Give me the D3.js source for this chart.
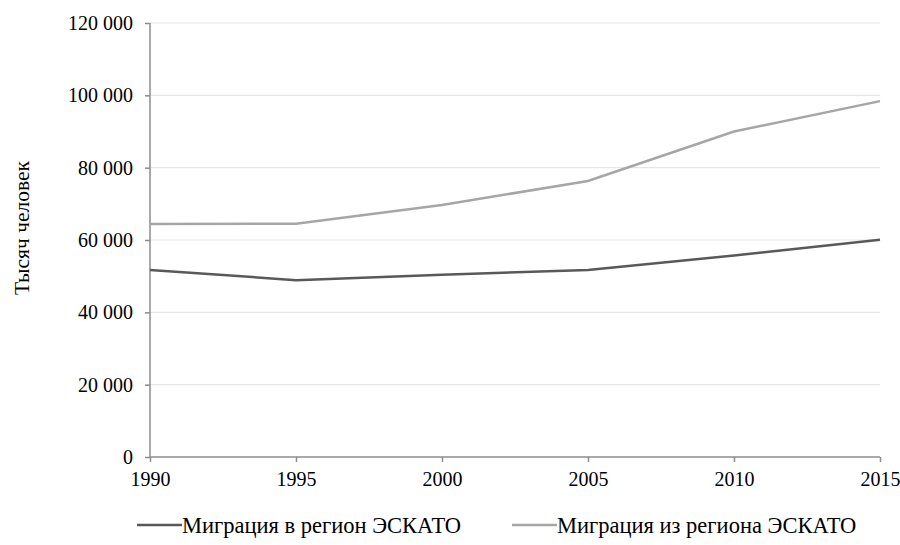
<!DOCTYPE html>
<html><head><meta charset="utf-8">
<script src="https://d3js.org/d3.v7.min.js"></script>
<style>body{margin:0;background:#fff}</style>
</head><body><svg id="c" width="900" height="545"></svg>
<script>
const years = [1990, 1995, 2000, 2005, 2010, 2015];
const seriesNames = ["Миграция в регион ЭСКАТО", "Миграция из региона ЭСКАТО"];
const inflow = [51700, 48900, 50400, 51700, 55700, 60100];
const outflow = [64400, 64500, 69700, 76300, 90000, 98400];
const yTicks = [0, 20000, 40000, 60000, 80000, 100000, 120000];
const yTitle = "Тысяч человек";
const colors = ["#595959", "#a6a6a6"];
const FONT = '"Liberation Serif"';

const svg = d3.select("#c");
const x = d3.scaleLinear().domain([1990, 2015]).range([150, 880]);
const y = d3.scaleLinear().domain([0, 120000]).range([457, 23]);
const fmt = v => d3.format(",")(v).replace(/,/g, " ");

svg.append("g").selectAll("line").data(yTicks.filter(d => d > 0)).join("line")
  .attr("x1", 150).attr("x2", 880).attr("y1", d => y(d)).attr("y2", d => y(d))
  .attr("stroke", "#e6e6e6").attr("stroke-width", 1.2);

const ya = svg.append("g").attr("transform", "translate(150,0)")
  .call(d3.axisLeft(y).tickValues(yTicks).tickFormat(fmt).tickSize(5).tickPadding(12));
const xa = svg.append("g").attr("transform", "translate(0,457)")
  .call(d3.axisBottom(x).tickValues(years).tickFormat(d3.format("d")).tickSize(5).tickPadding(10));
[ya, xa].forEach(a => {
  a.selectAll("path,line").attr("stroke", "#8c8c8c").attr("stroke-width", 1.5);
  a.selectAll("text").style("font-family", FONT).style("font-size", "20px").attr("fill", "#000");
});
ya.select(".domain").attr("d", "M0,457V23");
xa.select(".domain").attr("d", "M150,0H880");

const line = d3.line().x((d, i) => x(years[i])).y(d => y(d));
[inflow, outflow].forEach((s, i) => {
  svg.append("path").datum(s).attr("d", line).attr("fill", "none")
    .attr("stroke", colors[i]).attr("stroke-width", 2.5);
});

svg.append("text").attr("transform", "translate(21,228) rotate(-90)")
  .style("font-family", FONT).style("font-size", "21.5px").attr("dy", "0.35em")
  .attr("text-anchor", "middle").text(yTitle);

const legX = [137, 512];
seriesNames.forEach((n, i) => {
  svg.append("line").attr("x1", legX[i]).attr("x2", legX[i] + 45).attr("y1", 525).attr("y2", 525)
    .attr("stroke", colors[i]).attr("stroke-width", 2.5);
  svg.append("text").attr("x", legX[i] + 45).attr("y", 533)
    .style("font-family", FONT).style("font-size", "22.5px").text(n);
});
</script></body></html>
